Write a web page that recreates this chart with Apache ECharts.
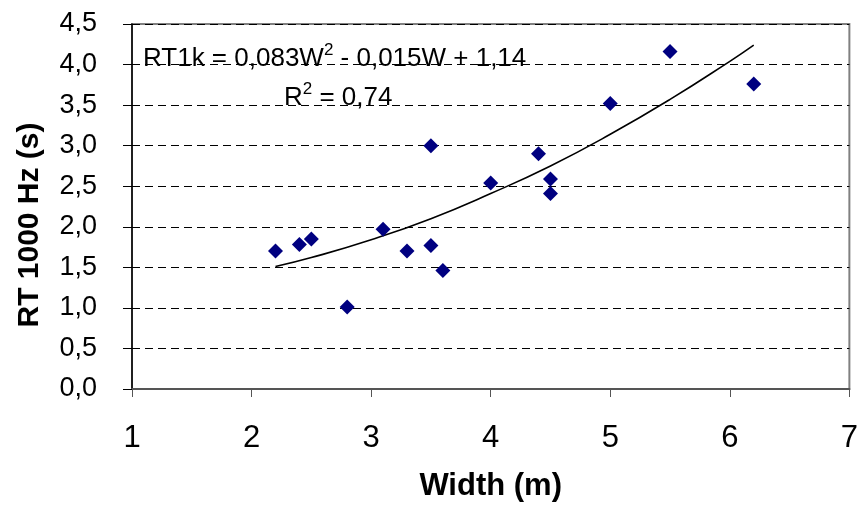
<!DOCTYPE html>
<html>
<head>
<meta charset="utf-8">
<script src="https://cdn.jsdelivr.net/npm/echarts@6/dist/echarts.min.js"></script>
<style>html,body{margin:0;padding:0;background:#fff;}#c{width:861px;height:511px;}</style>
</head>
<body>
<div id="c"></div>
<script>
// Measured points: width (m) and RT 1000 Hz (s)
const widths = [2.2, 2.4, 2.5, 2.8, 3.1, 3.3, 3.5, 3.5, 3.6, 4.0, 4.4, 4.5, 4.5, 5.0, 5.5, 6.2];
const rtValues = [1.70, 1.78, 1.85, 1.01, 1.97, 1.70, 3.00, 1.77, 1.46, 2.54, 2.90, 2.59, 2.41, 3.52, 4.16, 3.76];
// Trend line
const trendX = [2.2, 2.5, 3.0, 3.5, 4.0, 4.5, 5.0, 5.5, 6.0, 6.2];
const trendY = [1.51, 1.62, 1.84, 2.10, 2.41, 2.75, 3.14, 3.57, 4.04, 4.24];
const xTicks = ['1', '2', '3', '4', '5', '6', '7'];
const yTicks = ['0,0', '0,5', '1,0', '1,5', '2,0', '2,5', '3,0', '3,5', '4,0', '4,5'];

const chart = echarts.init(document.getElementById('c'), null, {renderer: 'canvas'});
const FONT = '"Liberation Sans", Arial, sans-serif';
const NARROW = '"Liberation Sans Narrow", ' + FONT;
const rich = {
  t: {fontFamily: FONT, fontSize: 26, fill: '#000'},
  s: {fontFamily: FONT, fontSize: 17, fill: '#000', verticalAlign: 'top', padding: [0, 0, 16, 0]}
};
chart.setOption({
  animation: false,
  backgroundColor: '#fff',
  grid: {left: 132, right: 9, top: 24, bottom: 122, show: true, borderColor: '#808080', borderWidth: 2},
  xAxis: {
    type: 'value', min: 1, max: 7, interval: 1,
    name: 'Width (m)', nameLocation: 'middle', nameGap: 82,
    nameTextStyle: {fontFamily: NARROW, fontWeight: 'bold', fontSize: 31, color: '#000'},
    axisLine: {lineStyle: {color: '#555', width: 2}},
    axisTick: {show: true, length: 8, lineStyle: {color: '#555'}},
    axisLabel: {fontFamily: NARROW, fontSize: 31, color: '#000', margin: 34,
      formatter: v => xTicks[Math.round(v) - 1]},
    splitLine: {show: false}
  },
  yAxis: {
    type: 'value', min: 0, max: 4.5, interval: 0.5,
    axisLine: {show: true, lineStyle: {color: '#000', width: 1.5}},
    axisTick: {show: true, length: 9, lineStyle: {color: '#000'}},
    axisLabel: {fontFamily: FONT, fontSize: 27, color: '#000', margin: 35,
      formatter: v => yTicks[Math.round(v * 2)]},
    splitLine: {show: true, lineStyle: {color: '#000', type: [8, 5], width: 1}}
  },
  series: [
    {
      type: 'scatter', symbol: 'diamond', symbolSize: 15,
      itemStyle: {color: '#000080', opacity: 1},
      data: widths.map((w, i) => [w, rtValues[i]]),
      z: 3
    },
    {
      type: 'line', smooth: true, showSymbol: false,
      lineStyle: {color: '#000', width: 1.6},
      data: trendX.map((w, i) => [w, trendY[i]]),
      z: 2
    }
  ],
  graphic: [
    {type: 'text', x: 30, y: 225, rotation: Math.PI / 2, z: 10, style: {
      text: 'RT 1000 Hz (s)', fontFamily: FONT, fontWeight: 'bold', fontSize: 30, fill: '#000',
      align: 'center', verticalAlign: 'middle'
    }},
    {type: 'text', left: 143, top: 42, z: 10, style: {text: '{t|RT1k = 0,083W}{s|2}{t| - 0,015W + 1,14}', rich: rich}},
    {type: 'text', left: 284, top: 81, z: 10, style: {text: '{t|R}{s|2}{t| = 0,74}', rich: rich}}
  ]
});
</script>
</body>
</html>
